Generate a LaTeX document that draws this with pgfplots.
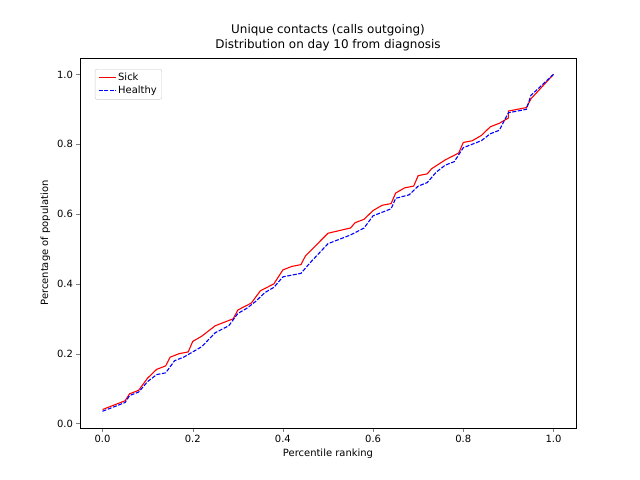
\documentclass[border=0pt]{standalone}
\usepackage{pgfplots}
\pgfplotsset{compat=1.18}
\usepackage{fontspec}
\setmainfont{DejaVu Sans}
\begin{document}
\begin{tikzpicture}[font=\fontsize{10}{12}\selectfont]
\useasboundingbox (-80bp,-52bp) rectangle (560bp,428bp);
\begin{axis}[at={(0,0)},anchor=south west,scale only axis,width=496bp,height=370bp,
xmin=-0.05,xmax=1.05,ymin=-0.013,ymax=1.047,
xtick={0,0.2,0.4,0.6,0.8,1.0},ytick={0,0.2,0.4,0.6,0.8,1.0},
xticklabels={0.0,0.2,0.4,0.6,0.8,1.0},yticklabels={0.0,0.2,0.4,0.6,0.8,1.0},
tick label style={font=\fontsize{10}{12}\selectfont},
label style={font=\fontsize{10}{12}\selectfont},
tick align=outside,tick pos=left,major tick length=3.5bp,
xlabel={Percentile ranking},ylabel={Percentage of population},
title={Unique contacts (calls outgoing)\\Distribution on day 10 from diagnosis},
title style={align=center,yshift=-2bp,font=\fontsize{12}{14.5}\selectfont},
legend pos=north west,legend cell align=left,
legend style={draw=black!20,rounded corners=2pt,font=\fontsize{10}{13}\selectfont}]
\addplot[red,line width=1.1bp,no marks] coordinates {(0,0.04)(0.05,0.065)(0.06,0.085)(0.08,0.095)(0.1,0.13)(0.12,0.155)(0.14,0.165)(0.15,0.19)(0.17,0.2)(0.19,0.205)(0.2,0.235)(0.22,0.25)(0.25,0.28)(0.29,0.3)(0.3,0.325)(0.33,0.345)(0.35,0.38)(0.38,0.4)(0.4,0.44)(0.42,0.45)(0.44,0.455)(0.45,0.48)(0.5,0.545)(0.55,0.56)(0.56,0.575)(0.58,0.585)(0.6,0.61)(0.62,0.625)(0.64,0.63)(0.65,0.66)(0.67,0.675)(0.69,0.68)(0.7,0.71)(0.72,0.715)(0.73,0.73)(0.76,0.755)(0.79,0.775)(0.8,0.805)(0.82,0.81)(0.84,0.825)(0.86,0.85)(0.88,0.86)(0.9,0.875)(0.9,0.895)(0.94,0.905)(0.95,0.93)(1,1.0)};
\addlegendentry{Sick}
\addplot[blue,line width=1.1bp,dash pattern=on 4bp off 1.6bp,no marks] coordinates {(0,0.035)(0.05,0.06)(0.06,0.08)(0.08,0.09)(0.1,0.12)(0.12,0.14)(0.14,0.145)(0.16,0.18)(0.18,0.19)(0.2,0.205)(0.22,0.22)(0.25,0.26)(0.28,0.28)(0.3,0.315)(0.32,0.33)(0.34,0.35)(0.36,0.375)(0.38,0.39)(0.4,0.42)(0.44,0.43)(0.46,0.46)(0.5,0.515)(0.55,0.54)(0.58,0.56)(0.6,0.595)(0.62,0.605)(0.64,0.615)(0.65,0.645)(0.68,0.655)(0.7,0.68)(0.72,0.69)(0.74,0.72)(0.76,0.74)(0.78,0.75)(0.8,0.79)(0.82,0.8)(0.84,0.81)(0.86,0.83)(0.88,0.84)(0.9,0.89)(0.94,0.9)(0.95,0.94)(1,1.0)};
\addlegendentry{Healthy}
\end{axis}
\end{tikzpicture}
\end{document}
